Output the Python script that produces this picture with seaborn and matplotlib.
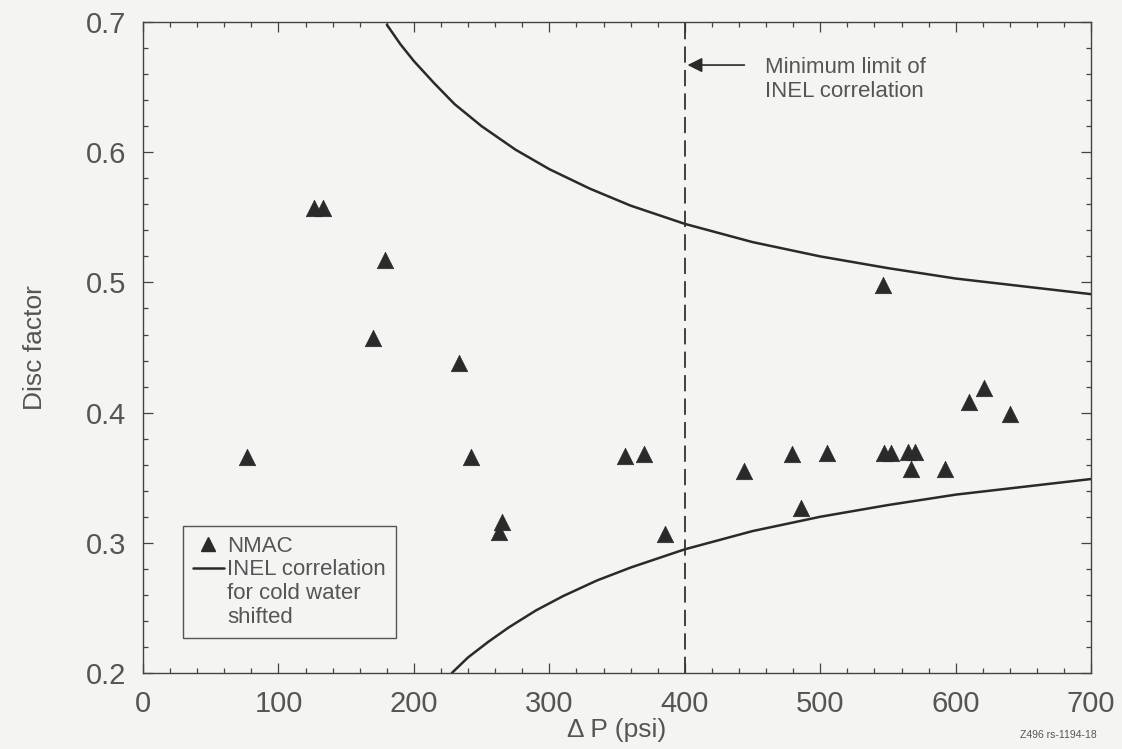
import numpy as np
import pandas as pd
import matplotlib
matplotlib.use('Agg')
import matplotlib.pyplot as plt
from matplotlib.ticker import MultipleLocator
from matplotlib.lines import Line2D
import seaborn as sns

dp_nmac = [77, 126, 133, 170, 179, 233, 242, 263, 265, 356, 370, 385, 444,
           479, 486, 505, 546, 547, 552, 565, 570, 567, 592, 610, 621, 640]
disc_nmac = [0.366, 0.557, 0.557, 0.457, 0.517, 0.438, 0.366, 0.308, 0.316,
             0.367, 0.368, 0.307, 0.355, 0.368, 0.327, 0.369, 0.498, 0.369,
             0.369, 0.370, 0.370, 0.357, 0.357, 0.408, 0.419, 0.399]

# INEL correlation band, upper and lower branch
dp_upper = [180, 190, 200, 215, 230, 250, 275, 300, 330, 360, 400, 450,
            500, 550, 600, 650, 700]
disc_upper = [0.698, 0.683, 0.670, 0.653, 0.637, 0.620, 0.602, 0.587, 0.572,
              0.559, 0.545, 0.531, 0.520, 0.511, 0.503, 0.497, 0.491]
dp_lower = [228, 240, 255, 270, 290, 310, 335, 360, 400, 450, 500, 550,
            600, 650, 700]
disc_lower = [0.200, 0.212, 0.224, 0.235, 0.248, 0.259, 0.271, 0.281, 0.295,
              0.309, 0.320, 0.329, 0.337, 0.343, 0.349]

dp_limit = 400
x_ticks = [0, 100, 200, 300, 400, 500, 600, 700]
y_ticks = [0.2, 0.3, 0.4, 0.5, 0.6, 0.7]

sns.set_theme(style='ticks')
plt.rcParams['font.family'] = ['Liberation Sans', 'DejaVu Sans']
txt = '#555555'
ink = '#2a2a2a'
bg = '#f4f4f2'

fig = plt.figure(figsize=(11.22, 7.49), dpi=100, facecolor=bg)
ax = fig.add_axes([0.1275, 0.1015, 0.845, 0.869], facecolor=bg)

sns.lineplot(x=dp_upper, y=disc_upper, ax=ax, color=ink, lw=1.8,
             sort=False, estimator=None, label='_nolegend_')
sns.lineplot(x=dp_lower, y=disc_lower, ax=ax, color=ink, lw=1.8,
             sort=False, estimator=None, label='_nolegend_')
sns.scatterplot(x=dp_nmac, y=disc_nmac, ax=ax, marker='^', s=140,
                color=ink, edgecolor=ink, linewidth=0.5, label='_nolegend_', zorder=3)

ax.axvline(dp_limit, color='#333333', lw=1.3, ls=(0, (9, 4)))

ax.set_xlim(0, 700)
ax.set_ylim(0.2, 0.7)
ax.set_xticks(x_ticks)
ax.set_xticklabels([str(v) for v in x_ticks])
ax.set_yticks(y_ticks)
ax.set_yticklabels([f'{v:.1f}' for v in y_ticks])
ax.xaxis.set_minor_locator(MultipleLocator(20))
ax.yaxis.set_minor_locator(MultipleLocator(0.02))
ax.tick_params(which='both', direction='in', top=True, right=True,
               colors='#444444', labelcolor=txt, labelsize=21, width=0.9)
ax.tick_params(which='major', length=7)
ax.tick_params(which='minor', length=3.5)
ax.tick_params(axis='x', pad=12)
ax.tick_params(axis='y', pad=12)
for s in ax.spines.values():
    s.set_color('#444444')
    s.set_linewidth(1.0)

ax.set_xlabel('Δ P (psi)', fontsize=19, color=txt, labelpad=0)
ax.set_ylabel('Disc factor', fontsize=19, color=txt, labelpad=28,
              family=['Liberation Sans Narrow', 'Liberation Sans', 'DejaVu Sans'])

# legend: line handle sits on the first text line, so extra lines get blank handles
h_tri = Line2D([], [], ls='none', marker='^', markersize=10, color=ink)
h_line = Line2D([], [], color=ink, lw=1.8)
h_blank = Line2D([], [], ls='none')
leg = ax.legend([h_tri, h_line, h_blank, h_blank],
                ['NMAC', 'INEL correlation', 'for cold water', 'shifted'],
                loc='lower left', bbox_to_anchor=(0.042, 0.054), borderaxespad=0,
                fancybox=False, frameon=True, edgecolor='#555555', facecolor=bg,
                framealpha=1, fontsize=16, handlelength=1.4, handletextpad=0.15,
                labelspacing=0.12, borderpad=0.45)
leg.get_frame().set_linewidth(1.0)
for t in leg.get_texts():
    t.set_color(txt)

ax.annotate('', xy=(402, 0.667), xytext=(444, 0.667),
            arrowprops=dict(arrowstyle='-|>', color=ink, lw=1.2,
                            mutation_scale=22, shrinkA=0, shrinkB=0))
ax.text(459, 0.673, 'Minimum limit of\nINEL correlation', fontsize=16,
        color=txt, va='top', ha='left', linespacing=1.15)

fig.text(0.943, 0.012, 'Z496 rs-1194-18', fontsize=7.5, color=txt, ha='center', va='bottom')

fig.savefig('out.png', dpi=100, facecolor=bg)
